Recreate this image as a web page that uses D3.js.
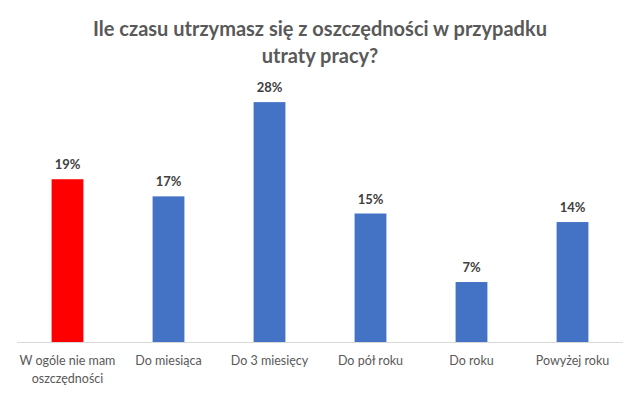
<!DOCTYPE html>
<html>
<head>
<meta charset="utf-8">
<script src="https://cdn.jsdelivr.net/npm/d3@7"></script>
<style>
  html, body { margin: 0; padding: 0; background: #fff; }
  svg { display: block; }
</style>
</head>
<body>
<svg id="chart" width="640" height="396"></svg>
<script>
const titleLines = ["Ile czasu utrzymasz się z oszczędności w przypadku", "utraty pracy?"];
const categories = [["W ogóle nie mam", "oszczędności"], ["Do miesiąca"], ["Do 3 miesięcy"], ["Do pół roku"], ["Do roku"], ["Powyżej roku"]];
const values = [19, 17, 28, 15, 7, 14];
const barColors = ["#FF0000", "#4472C4", "#4472C4", "#4472C4", "#4472C4", "#4472C4"];

const svg = d3.select("#chart");
const font = "Lato, 'Open Sans', sans-serif";

const x = d3.scaleBand().domain(d3.range(categories.length)).range([17, 623]).padding(0);
const y = d3.scaleLinear().domain([0, 30]).range([342, 85]);
const barW = x.bandwidth() * 0.315;

svg.append("g").selectAll("text").data(titleLines).join("text")
  .attr("x", 320).attr("y", (d, i) => 36 + i * 27)
  .attr("text-anchor", "middle")
  .attr("font-family", font).attr("font-weight", "bold").attr("font-size", 20)
  .attr("fill", "#595959").text(d => d);

svg.append("g").selectAll("rect").data(values).join("rect")
  .attr("x", (d, i) => x(i) + x.bandwidth() / 2 - barW / 2)
  .attr("y", d => y(d))
  .attr("width", barW)
  .attr("height", d => y(0) - y(d))
  .attr("fill", (d, i) => barColors[i]);

svg.append("line").attr("x1", 17).attr("x2", 623).attr("y1", y(0) + 0.5).attr("y2", y(0) + 0.5)
  .attr("stroke", "#D9D9D9").attr("stroke-width", 1);

svg.append("g").selectAll("text").data(values).join("text")
  .attr("x", (d, i) => x(i) + x.bandwidth() / 2)
  .attr("y", d => y(d) - 10)
  .attr("text-anchor", "middle")
  .attr("font-family", font).attr("font-weight", "bold").attr("font-size", 13)
  .attr("fill", "#404040").text(d => d + "%");

const cat = svg.append("g").selectAll("text").data(categories).join("text")
  .attr("x", (d, i) => x(i) + x.bandwidth() / 2)
  .attr("y", 365)
  .attr("text-anchor", "middle")
  .attr("font-family", font).attr("font-size", 12.5)
  .attr("fill", "#595959");
cat.selectAll("tspan").data(d => d).join("tspan")
  .attr("x", function() { return d3.select(this.parentNode).attr("x"); })
  .attr("dy", (d, i) => i === 0 ? 0 : 18)
  .text(d => d);
</script>
</body>
</html>
